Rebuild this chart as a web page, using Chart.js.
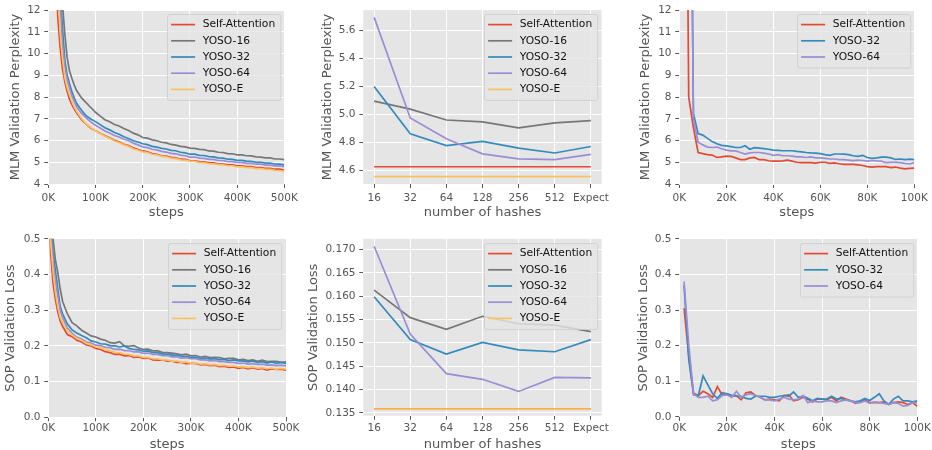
<!DOCTYPE html>
<html><head><meta charset="utf-8">
<script src="https://cdn.jsdelivr.net/npm/chart.js@4.4.1/dist/chart.umd.min.js"></script>
<style>
html,body{margin:0;padding:0;background:#fff;}
body{position:relative;width:932px;height:450px;overflow:hidden;}
canvas{position:absolute;}
</style></head>
<body>
<canvas id="p1"></canvas><canvas id="p2"></canvas><canvas id="p3"></canvas>
<canvas id="p4"></canvas><canvas id="p5"></canvas><canvas id="p6"></canvas>
<script>
// ---------- DATA ----------
const COLORS = { 'Self-Attention':'#E24A33', 'YOSO-16':'#777777', 'YOSO-32':'#348ABD', 'YOSO-64':'#988ED5', 'YOSO-E':'#FBC15E' };

// Panel 1: MLM perplexity, 500K steps (x in thousands)
const mlmSteps = [15,20,25,30,35,40,45,50,55,60,70,80,90,100,110,120,130,140,150,160,170,180,190,200,210,220,230,240,250,260,270,280,290,300,310,320,330,340,350,360,370,380,390,400,410,420,430,440,450,460,470,480,490,500];
const mlmSelfAttention = [15.0,11.7,10.3,9.3,8.7,8.25,7.9,7.65,7.45,7.28,6.97,6.76,6.57,6.45,6.34,6.22,6.13,6.01,5.94,5.83,5.77,5.66,5.58,5.52,5.48,5.40,5.37,5.30,5.28,5.23,5.20,5.14,5.13,5.08,5.07,5.03,5.02,4.97,4.97,4.93,4.92,4.88,4.88,4.84,4.84,4.80,4.80,4.76,4.76,4.72,4.72,4.68,4.68,4.64];
const mlmYoso16 = [20,17,14.5,12.3,10.9,9.8,9.2,8.85,8.55,8.3,7.97,7.74,7.52,7.3,7.12,6.96,6.86,6.74,6.67,6.55,6.46,6.34,6.26,6.14,6.11,6.03,5.99,5.92,5.89,5.82,5.79,5.73,5.71,5.65,5.64,5.59,5.58,5.52,5.51,5.46,5.45,5.40,5.39,5.34,5.34,5.30,5.29,5.25,5.24,5.20,5.20,5.15,5.15,5.12];
const mlmYoso32 = [18,15,12.9,11.2,9.7,9.0,8.6,8.25,7.95,7.7,7.4,7.14,6.99,6.87,6.73,6.59,6.49,6.37,6.29,6.17,6.09,5.99,5.93,5.85,5.81,5.73,5.70,5.64,5.61,5.55,5.53,5.46,5.43,5.37,5.37,5.32,5.31,5.26,5.25,5.20,5.19,5.14,5.13,5.09,5.09,5.05,5.04,5.00,5.00,4.96,4.96,4.92,4.91,4.88];
const mlmYoso64 = [17,14.5,12.3,10.4,9.4,8.8,8.4,8.05,7.8,7.55,7.26,7.04,6.86,6.7,6.58,6.44,6.35,6.23,6.16,6.06,6.0,5.88,5.80,5.71,5.67,5.60,5.57,5.50,5.47,5.41,5.39,5.33,5.30,5.24,5.24,5.19,5.18,5.13,5.13,5.08,5.08,5.03,5.03,4.99,4.99,4.95,4.95,4.91,4.91,4.87,4.87,4.83,4.83,4.80];
const mlmYosoE = [16,13.2,11.0,9.8,8.9,8.45,8.1,7.8,7.55,7.35,7.03,6.77,6.61,6.44,6.33,6.19,6.10,5.98,5.91,5.80,5.73,5.62,5.55,5.48,5.45,5.37,5.34,5.27,5.25,5.19,5.17,5.11,5.10,5.05,5.04,4.99,4.98,4.94,4.93,4.89,4.88,4.84,4.84,4.79,4.79,4.75,4.75,4.71,4.71,4.67,4.67,4.63,4.62,4.58];

// Panel 2 & 5: number of hashes
const hashLabels = ['16','32','64','128','256','512','Expect'];
const hashMlmSelfAttention = [4.628,4.628,4.628,4.628,4.628,4.628,4.628];
const hashMlmYoso16 = [5.095,5.038,4.961,4.947,4.905,4.940,4.956];
const hashMlmYoso32 = [5.200,4.863,4.779,4.809,4.760,4.726,4.772];
const hashMlmYoso64 = [5.692,4.975,4.827,4.720,4.684,4.679,4.716];
const hashMlmYosoE = [4.558,4.558,4.558,4.558,4.558,4.558,4.558];
const hashSopSelfAttention = [0.1358,0.1358,0.1358,0.1358,0.1358,0.1358,0.1358];
const hashSopYoso16 = [0.1613,0.1554,0.1529,0.1557,0.1541,0.1538,0.1524];
const hashSopYoso32 = [0.1599,0.1507,0.1476,0.1501,0.1485,0.1481,0.1507];
const hashSopYoso64 = [0.1707,0.1519,0.1434,0.1422,0.1396,0.1426,0.1425];
const hashSopYosoE = [0.1358,0.1358,0.1358,0.1358,0.1358,0.1358,0.1358];

// Panel 3 & 6: first 100K steps (x in thousands)
const earlySteps = [2,4,6,8,10,12,14,16,18,20,22,24,26,28,30,32,34,36,38,40,42,44,46,48,50,52,54,56,58,60,62,64,66,68,70,72,74,76,78,80,82,84,86,88,90,92,94,96,98,100];
const earlyMlmSelfAttention = [35,8.0,6.6,5.45,5.4,5.35,5.33,5.22,5.25,5.28,5.27,5.2,5.12,5.12,5.2,5.22,5.12,5.12,5.07,5.05,5.05,5.06,5.1,5.05,5.0,4.98,4.99,4.98,4.96,5.0,5.0,4.95,4.97,4.93,4.9,4.9,4.9,4.88,4.85,4.8,4.78,4.8,4.8,4.8,4.75,4.78,4.73,4.7,4.72,4.73];
const earlyMlmYoso32 = [60,31,7.25,6.32,6.25,6.1,5.95,5.85,5.78,5.75,5.72,5.68,5.68,5.76,5.6,5.67,5.65,5.63,5.6,5.56,5.55,5.53,5.53,5.53,5.5,5.48,5.45,5.43,5.42,5.4,5.35,5.32,5.38,5.38,5.37,5.35,5.3,5.27,5.32,5.22,5.18,5.2,5.24,5.24,5.2,5.13,5.15,5.12,5.14,5.12];
const earlyMlmYoso64 = [60,31,7.0,5.92,5.8,5.7,5.68,5.7,5.62,5.56,5.52,5.52,5.45,5.38,5.43,5.45,5.45,5.42,5.38,5.32,5.35,5.3,5.3,5.28,5.25,5.25,5.22,5.25,5.2,5.2,5.18,5.15,5.15,5.12,5.12,5.1,5.08,5.1,5.08,5.05,5.08,5.06,5.05,4.98,5.0,5.0,4.98,4.95,4.93,4.98];
const earlySopSelfAttention = [0.305,0.17,0.066,0.06,0.072,0.065,0.055,0.085,0.062,0.065,0.06,0.06,0.048,0.068,0.07,0.06,0.055,0.048,0.05,0.048,0.045,0.06,0.062,0.045,0.048,0.055,0.05,0.042,0.05,0.05,0.048,0.055,0.045,0.055,0.05,0.045,0.038,0.042,0.048,0.04,0.04,0.04,0.042,0.035,0.04,0.042,0.04,0.035,0.04,0.03];
const earlySopYoso32 = [0.37,0.16,0.062,0.06,0.115,0.09,0.065,0.052,0.068,0.065,0.06,0.058,0.058,0.052,0.05,0.058,0.058,0.058,0.055,0.055,0.058,0.06,0.058,0.07,0.055,0.058,0.052,0.045,0.052,0.05,0.05,0.058,0.05,0.052,0.048,0.045,0.042,0.045,0.052,0.046,0.055,0.065,0.045,0.035,0.05,0.058,0.045,0.045,0.042,0.045];
const earlySopYoso64 = [0.38,0.2,0.065,0.055,0.055,0.058,0.045,0.048,0.06,0.062,0.055,0.072,0.055,0.062,0.065,0.06,0.055,0.048,0.048,0.045,0.05,0.055,0.05,0.048,0.05,0.06,0.04,0.045,0.042,0.042,0.045,0.045,0.04,0.045,0.048,0.045,0.04,0.04,0.045,0.038,0.042,0.04,0.038,0.035,0.04,0.038,0.03,0.032,0.04,0.04];

// Panel 4: SOP loss, 500K steps (x in thousands)
const sopSteps = [2,5,10,15,20,25,30,40,50,60,70,80,90,100,110,120,130,140,150,160,170,180,190,200,210,220,230,240,250,260,270,280,290,300,310,320,330,340,350,360,370,380,390,400,410,420,430,440,450,460,470,480,490,500];
const sopSelfAttention = [0.56,0.46,0.375,0.33,0.295,0.27,0.255,0.232,0.226,0.216,0.211,0.203,0.2,0.193,0.19,0.184,0.181,0.176,0.177,0.172,0.173,0.168,0.169,0.165,0.166,0.161,0.16,0.161,0.157,0.157,0.154,0.154,0.15,0.151,0.151,0.147,0.148,0.145,0.146,0.142,0.143,0.14,0.141,0.137,0.14,0.136,0.139,0.135,0.137,0.132,0.136,0.134,0.135,0.132];
const sopYoso16 = [0.75,0.58,0.5,0.44,0.405,0.36,0.325,0.29,0.265,0.256,0.244,0.236,0.228,0.225,0.219,0.216,0.209,0.208,0.212,0.2,0.199,0.201,0.194,0.19,0.191,0.186,0.186,0.182,0.181,0.18,0.178,0.175,0.177,0.172,0.173,0.169,0.171,0.167,0.168,0.167,0.164,0.165,0.165,0.161,0.162,0.159,0.161,0.157,0.16,0.156,0.157,0.157,0.154,0.155];
const sopYoso32 = [0.68,0.54,0.46,0.41,0.36,0.31,0.29,0.262,0.245,0.236,0.229,0.223,0.214,0.211,0.206,0.205,0.201,0.2,0.197,0.2,0.193,0.19,0.189,0.185,0.186,0.181,0.181,0.177,0.177,0.174,0.174,0.171,0.171,0.167,0.168,0.165,0.166,0.163,0.164,0.161,0.162,0.159,0.161,0.158,0.158,0.155,0.157,0.154,0.156,0.152,0.155,0.151,0.154,0.151];
const sopYoso64 = [0.65,0.52,0.44,0.38,0.34,0.3,0.28,0.25,0.236,0.224,0.219,0.211,0.208,0.202,0.201,0.196,0.195,0.19,0.191,0.187,0.187,0.183,0.183,0.179,0.18,0.176,0.176,0.173,0.173,0.169,0.17,0.166,0.167,0.164,0.164,0.161,0.161,0.158,0.159,0.156,0.156,0.154,0.154,0.151,0.152,0.149,0.15,0.148,0.149,0.146,0.147,0.145,0.146,0.144];
const sopYosoE = [0.6,0.49,0.41,0.35,0.31,0.28,0.265,0.243,0.231,0.221,0.216,0.207,0.203,0.197,0.195,0.189,0.187,0.182,0.181,0.177,0.176,0.172,0.172,0.168,0.168,0.164,0.164,0.161,0.161,0.157,0.158,0.154,0.155,0.151,0.152,0.149,0.15,0.147,0.148,0.145,0.146,0.143,0.144,0.141,0.142,0.139,0.141,0.138,0.139,0.136,0.138,0.135,0.137,0.135];

// Tick arrays
const stepTicks500 = [0,100,200,300,400,500];
const stepTicks100 = [0,20,40,60,80,100];
const hashTicks = [0,1,2,3,4,5,6];
const mlmTicks = [4,5,6,7,8,9,10,11,12];
const hashMlmTicks = [4.6,4.8,5.0,5.2,5.4,5.6];
const sopTicks = [0.0,0.1,0.2,0.3,0.4,0.5];
const hashSopTicks = [0.135,0.140,0.145,0.150,0.155,0.160,0.165,0.170];

// ---------- RENDER ----------
const FAM = 'DejaVu Sans';
Chart.defaults.font.family = FAM;
const TICK = '#555555';

const bgPlugin = { id:'ggBg', beforeDraw(chart){
  const {ctx, chartArea:a} = chart;
  ctx.save(); ctx.fillStyle = '#E5E5E5';
  ctx.fillRect(a.left, a.top, a.right-a.left, a.bottom-a.top);
  ctx.restore();
}};

const legendPlugin = { id:'ggLegend', afterDraw(chart){
  const {ctx, chartArea:a} = chart;
  const ds = chart.data.datasets;
  ctx.save();
  ctx.font = '10.7px "' + FAM + '"';
  let tw = 0; ds.forEach(d => { tw = Math.max(tw, ctx.measureText(d.label).width); });
  const rowH = 16.2, w = 3.6 + 24 + 7.6 + tw + 5.6, h = ds.length*rowH + 5;
  const x = Math.round(a.right - 4.4 - w) + 0.5, y = Math.round(a.top + 4.3) + 0.5;
  const r = 2.5;
  ctx.beginPath();
  ctx.moveTo(x+r, y); ctx.lineTo(x+w-r, y); ctx.quadraticCurveTo(x+w, y, x+w, y+r);
  ctx.lineTo(x+w, y+h-r); ctx.quadraticCurveTo(x+w, y+h, x+w-r, y+h);
  ctx.lineTo(x+r, y+h); ctx.quadraticCurveTo(x, y+h, x, y+h-r);
  ctx.lineTo(x, y+r); ctx.quadraticCurveTo(x, y, x+r, y); ctx.closePath();
  ctx.fillStyle = 'rgba(229,229,229,0.8)'; ctx.fill();
  ctx.strokeStyle = 'rgba(204,204,204,0.8)'; ctx.lineWidth = 1; ctx.stroke();
  ds.forEach((d, i) => {
    const cy = y + 10.1 + i*rowH;
    ctx.strokeStyle = d.borderColor; ctx.lineWidth = 1.7;
    ctx.beginPath(); ctx.moveTo(x+3.6, cy); ctx.lineTo(x+27.6, cy); ctx.stroke();
    ctx.fillStyle = '#111'; ctx.textBaseline = 'middle'; ctx.textAlign = 'left';
    ctx.fillText(d.label, x+35.2, cy);
  });
  ctx.restore();
}};

function makeChart(p){
  const cv = document.getElementById(p.id);
  cv.width = p.cw; cv.height = p.ch;
  cv.style.left = p.cx + 'px'; cv.style.top = p.cy + 'px';
  cv.style.width = p.cw + 'px'; cv.style.height = p.ch + 'px';
  const n = p.series.length;
  const datasets = p.series.map((s, i) => ({
    label: s[0], borderColor: COLORS[s[0]], backgroundColor: COLORS[s[0]],
    data: p.xs.map((x, j) => ({x: x, y: s[1][j]})),
    order: n-1-i, borderWidth: 1.7, pointRadius: 0, pointHoverRadius: 0,
    tension: 0, fill: false, clip: 0
  }));
  const half = 13*1.2/2;
  new Chart(cv, {
    type: 'line',
    data: { datasets },
    plugins: [bgPlugin, legendPlugin],
    options: {
      responsive: false, animation: false, devicePixelRatio: 1,
      events: [],
      layout: { autoPadding: false, padding: { left: 0, top: p.t - p.cy, right: p.cx + p.cw - p.r, bottom: 0 } },
      plugins: { legend: { display: false }, tooltip: { enabled: false } },
      scales: {
        x: {
          type: 'linear', min: p.xMin, max: p.xMax,
          afterFit: s => { s.height = p.cy + p.ch - p.b; },
          afterBuildTicks: s => { s.ticks = p.xTicks.map(v => ({value: v})); },
          ticks: { callback: p.xFmt, color: TICK, font: { size: 10.5 }, padding: p.xPad, maxRotation: 0, minRotation: 0, autoSkip: false },
          grid: { color: '#FFFFFF', lineWidth: 1, tickColor: TICK, tickLength: 4, tickWidth: 1, drawTicks: true },
          border: { display: false },
          title: { display: true, text: p.xTitle, color: TICK, font: { size: 13, lineHeight: 1.2 }, padding: { top: 0, bottom: p.cy + p.ch - p.xTitleY - half } }
        },
        y: {
          type: 'linear', min: p.yMin, max: p.yMax,
          afterFit: s => { s.width = p.l - p.cx; },
          afterBuildTicks: s => { s.ticks = p.yTicks.map(v => ({value: v})); },
          ticks: { callback: p.yFmt, color: TICK, font: { size: 10.5 }, padding: 3.8, autoSkip: false },
          grid: { color: '#FFFFFF', lineWidth: 1, tickColor: TICK, tickLength: 4, tickWidth: 1, drawTicks: true },
          border: { display: false },
          title: { display: true, text: p.yTitle, color: TICK, font: { size: 13, lineHeight: 1.2 }, padding: { top: p.yTitleX - p.cx - half, bottom: 0 } }
        }
      }
    }
  });
}

const kFmt = v => v + 'K';
const hashFmt = v => hashLabels[v];

makeChart({ id:'p1', cx:0, cy:0, cw:302, ch:225, l:48.3, r:286, t:6, b:184,
  xs: mlmSteps, xMin:0, xMax:500, xTicks: stepTicks500, xFmt: kFmt, xPad: 4.2,
  yMin:4, yMax:12, yTicks: mlmTicks, yFmt: v => String(v),
  xTitle:'steps', yTitle:'MLM Validation Perplexity', yTitleX:15.3, xTitleY:212.5,
  series: [['Self-Attention', mlmSelfAttention], ['YOSO-16', mlmYoso16], ['YOSO-32', mlmYoso32], ['YOSO-64', mlmYoso64], ['YOSO-E', mlmYosoE]] });

makeChart({ id:'p2', cx:300, cy:0, cw:317, ch:225, l:363.3, r:601.7, t:6, b:184,
  xs: hashTicks, xMin:-0.3, xMax:6.3, xTicks: hashTicks, xFmt: hashFmt, xPad: 4.2,
  yMin:4.505, yMax:5.744, yTicks: hashMlmTicks, yFmt: v => v.toFixed(1),
  xTitle:'number of hashes', yTitle:'MLM Validation Perplexity', yTitleX:327.2, xTitleY:212.5,
  series: [['Self-Attention', hashMlmSelfAttention], ['YOSO-16', hashMlmYoso16], ['YOSO-32', hashMlmYoso32], ['YOSO-64', hashMlmYoso64], ['YOSO-E', hashMlmYosoE]] });

makeChart({ id:'p3', cx:615, cy:0, cw:317, ch:225, l:679.3, r:916.7, t:6, b:184,
  xs: earlySteps, xMin:0, xMax:100, xTicks: stepTicks100, xFmt: kFmt, xPad: 4.2,
  yMin:4, yMax:12, yTicks: mlmTicks, yFmt: v => String(v),
  xTitle:'steps', yTitle:'MLM Validation Perplexity', yTitleX:645.8, xTitleY:212.5,
  series: [['Self-Attention', earlyMlmSelfAttention], ['YOSO-32', earlyMlmYoso32], ['YOSO-64', earlyMlmYoso64]] });

makeChart({ id:'p4', cx:0, cy:225, cw:302, ch:225, l:48.3, r:286, t:238.8, b:417.3,
  xs: sopSteps, xMin:0, xMax:500, xTicks: stepTicks500, xFmt: kFmt, xPad: 1.0,
  yMin:0, yMax:0.5, yTicks: sopTicks, yFmt: v => v.toFixed(1),
  xTitle:'steps', yTitle:'SOP Validation Loss', yTitleX:10.5, xTitleY:444.8,
  series: [['Self-Attention', sopSelfAttention], ['YOSO-16', sopYoso16], ['YOSO-32', sopYoso32], ['YOSO-64', sopYoso64], ['YOSO-E', sopYosoE]] });

makeChart({ id:'p5', cx:300, cy:225, cw:317, ch:225, l:363.3, r:601.7, t:238.8, b:415.7,
  xs: hashTicks, xMin:-0.3, xMax:6.3, xTicks: hashTicks, xFmt: hashFmt, xPad: 2.6,
  yMin:0.1344, yMax:0.1723, yTicks: hashSopTicks, yFmt: v => v.toFixed(3),
  xTitle:'number of hashes', yTitle:'SOP Validation Loss', yTitleX:313.3, xTitleY:444.8,
  series: [['Self-Attention', hashSopSelfAttention], ['YOSO-16', hashSopYoso16], ['YOSO-32', hashSopYoso32], ['YOSO-64', hashSopYoso64], ['YOSO-E', hashSopYosoE]] });

makeChart({ id:'p6', cx:615, cy:225, cw:317, ch:225, l:679.3, r:917.3, t:238.8, b:416.9,
  xs: earlySteps, xMin:0, xMax:100, xTicks: stepTicks100, xFmt: kFmt, xPad: 1.2,
  yMin:0, yMax:0.5, yTicks: sopTicks, yFmt: v => v.toFixed(1),
  xTitle:'steps', yTitle:'SOP Validation Loss', yTitleX:643.3, xTitleY:444.8,
  series: [['Self-Attention', earlySopSelfAttention], ['YOSO-32', earlySopYoso32], ['YOSO-64', earlySopYoso64]] });
</script>
</body></html>
